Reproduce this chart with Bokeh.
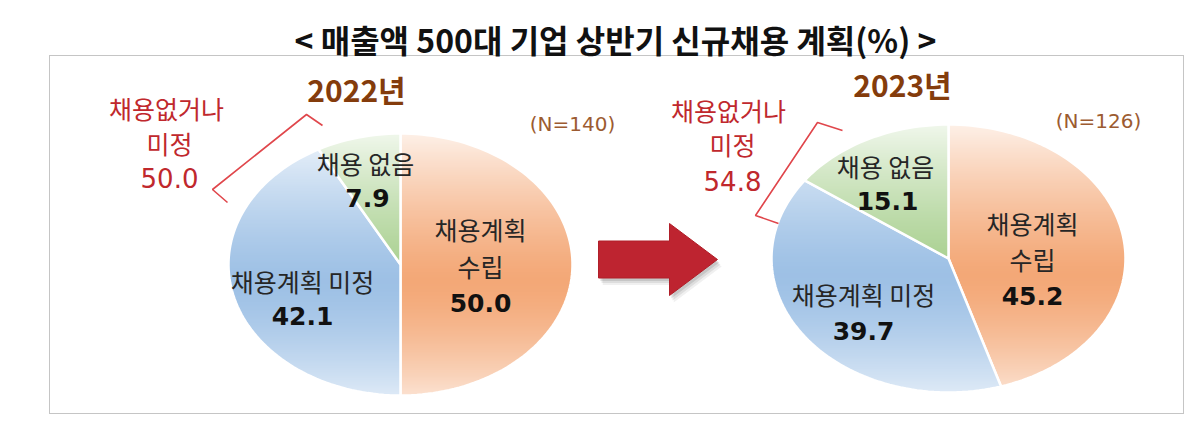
import numpy as np
from bokeh.plotting import figure
from bokeh.models import Range1d, ColumnDataSource
from bokeh.core.properties import value
from bokeh.embed import file_html
from bokeh.resources import INLINE

# ---------------- data ----------------
title_text = "< 매출액 500대 기업 상반기 신규채용 계획(%) >"
years = ["2022년", "2023년"]
sample_sizes = ["(N=140)", "(N=126)"]
categories = ["채용계획 수립", "채용계획 미정", "채용 없음"]
category_lines = [["채용계획", "수립"], ["채용계획 미정"], ["채용 없음"]]
values_2022 = [50.0, 42.1, 7.9]
values_2023 = [45.2, 39.7, 15.1]
combined_label = ["채용없거나", "미정"]
combined_values = [50.0, 54.8]
slice_colors = ["#f3a36f", "#98bde4", "#a3cd88"]

# ---------------- layout (reference pixel coords, y down) ----------------
W, H = 1184, 417
FONT_KR = "Noto Sans CJK KR"
FONT_NUM = "DejaVu Sans"

pies = [
    dict(values=values_2022, cx=400, cy=264, rx=172, ry=131,
         label_pos=[[(480, 228), (480, 265)], [(302, 280)], (365, 162)],
         value_pos=[(480, 302), (302, 315), (367, 197)],
         year_pos=(356, 88), n_pos=(572, 123),
         combo_pos=[(166, 107), (169, 142), (169, 177)],
         bracket=[(322, 125), (306, 114), (212, 189), (227, 202)]),
    dict(values=values_2023, cx=948, cy=258, rx=177, ry=134,
         label_pos=[[(1032, 222), (1032, 258)], [(863, 293)], (885, 165)],
         value_pos=[(1032, 295), (863, 330), (887, 200)],
         year_pos=(902, 83), n_pos=(1098, 120),
         combo_pos=[(728, 109), (732, 143), (732, 180)],
         bracket=[(842, 130), (817, 122), (755, 215), (778, 223)]),
]

def Y(v):
    return -v

p = figure(width=W, height=H, output_backend="svg", toolbar_location=None,
           x_range=Range1d(0, W), y_range=Range1d(-H, 0),
           min_border=0)
p.axis.visible = False
p.grid.visible = False
p.outline_line_color = None
p.background_fill_color = "white"

# dashed frame
p.quad(left=[49], right=[1183], top=[Y(55)], bottom=[Y(413)],
       fill_alpha=0, line_color="#8a8a8a", line_dash="1 1", line_width=1)

def gradient_alpha(t):
    peak = 0.56
    if t < peak:
        return 0.06 + 0.80 * ((peak - t) / peak) ** 1.3
    return 0.06 + 0.64 * ((t - peak) / (1 - peak)) ** 1.5

for pie in pies:
    vals = np.array(pie["values"], dtype=float)
    fr = np.concatenate([[0], np.cumsum(vals) / vals.sum()])
    xs, ys = [], []
    for i in range(len(vals)):
        th = np.linspace(fr[i], fr[i + 1], max(4, int(200 * (fr[i + 1] - fr[i])))) * 2 * np.pi
        px = pie["cx"] + pie["rx"] * np.sin(th)
        py = pie["cy"] - pie["ry"] * np.cos(th)
        xs.append(np.concatenate([[pie["cx"]], px]).tolist())
        ys.append([Y(v) for v in np.concatenate([[pie["cy"]], py])])
    src = ColumnDataSource(dict(xs=xs, ys=ys, color=slice_colors))
    p.patches("xs", "ys", source=src, fill_color="color",
              line_color="white", line_width=2.5)

    # white vertical gradient overlay (lightens top and bottom)
    N = 300
    img = np.empty((N, 1), dtype=np.uint32)
    view = img.view(dtype=np.uint8).reshape((N, 1, 4))
    for r in range(N):
        t = 1 - (r + 0.5) / N
        view[r, 0, 0:3] = 255
        view[r, 0, 3] = int(255 * min(1.0, gradient_alpha(t)))
    top = pie["cy"] - pie["ry"] - 3
    bot = pie["cy"] + pie["ry"] + 3
    p.image_rgba(image=[img], x=pie["cx"] - pie["rx"] - 3, y=Y(bot),
                 dw=2 * pie["rx"] + 6, dh=bot - top)

    # category labels
    lx, ly, lt = [], [], []
    for ci, lines in enumerate(category_lines):
        pos = pie["label_pos"][ci]
        if isinstance(pos, tuple):
            pos = [pos]
        for (x, y), txt in zip(pos, lines):
            lx.append(x); ly.append(Y(y)); lt.append(txt)
    p.text(x=lx, y=ly, text=lt, text_font=value(FONT_KR), text_font_size="25px",
           text_align="center", text_baseline="middle", text_color="#262626")
    p.text(x=[v[0] for v in pie["value_pos"]], y=[Y(v[1]) for v in pie["value_pos"]],
           text=[f"{v:.1f}" for v in pie["values"]], text_font=value(FONT_NUM),
           text_font_size="25px", text_font_style="bold",
           text_align="center", text_baseline="middle", text_color="#111111")

# year, N labels
p.text(x=[pp["year_pos"][0] for pp in pies], y=[Y(pp["year_pos"][1]) for pp in pies],
       text=years, text_font=value(FONT_KR), text_font_size="30px",
       text_font_style="bold", text_align="center", text_baseline="middle",
       text_color="#843c0c")
p.text(x=[pp["n_pos"][0] for pp in pies], y=[Y(pp["n_pos"][1]) for pp in pies],
       text=sample_sizes, text_font=value(FONT_NUM), text_font_size="20px",
       text_align="center", text_baseline="middle", text_color="#9c5b31")

# combined annotation + bracket
for pie, cv in zip(pies, combined_values):
    cp = pie["combo_pos"]
    p.text(x=[cp[0][0], cp[1][0]], y=[Y(cp[0][1]), Y(cp[1][1])], text=combined_label,
           text_font=value(FONT_KR), text_font_size="25px",
           text_align="center", text_baseline="middle", text_color="#c0282d")
    p.text(x=[cp[2][0]], y=[Y(cp[2][1])], text=[f"{cv:.1f}"],
           text_font=value(FONT_NUM), text_font_size="26px",
           text_align="center", text_baseline="middle", text_color="#c0282d")
    b = pie["bracket"]
    p.line(x=[q[0] for q in b], y=[Y(q[1]) for q in b], line_color="#e0474c",
           line_width=1.6)

# arrow
ax0, axh, axt, ay, sh, hh = 598, 669, 717, 259, 18.5, 36
arrow_x = [ax0, axh, axh, axt, axh, axh, ax0]
arrow_y = [ay - sh, ay - sh, ay - hh, ay, ay + hh, ay + sh, ay + sh]
for off, al in [(7, 0.06), (5, 0.08), (3, 0.10)]:
    p.patch(x=[v + off * 0.6 for v in arrow_x], y=[Y(v + off) for v in arrow_y],
            fill_color="#000000", fill_alpha=al, line_color=None)
p.patch(x=arrow_x, y=[Y(v) for v in arrow_y], fill_color="#be2430", line_color="#b01f29",
        line_width=1)

# title
p.text(x=[615], y=[Y(38)], text=[title_text], text_font=value(FONT_KR),
       text_font_size="32px", text_font_style="bold", text_align="center",
       text_baseline="middle", text_color="#111111")

open("out.html", "w").write(file_html(p, INLINE))
